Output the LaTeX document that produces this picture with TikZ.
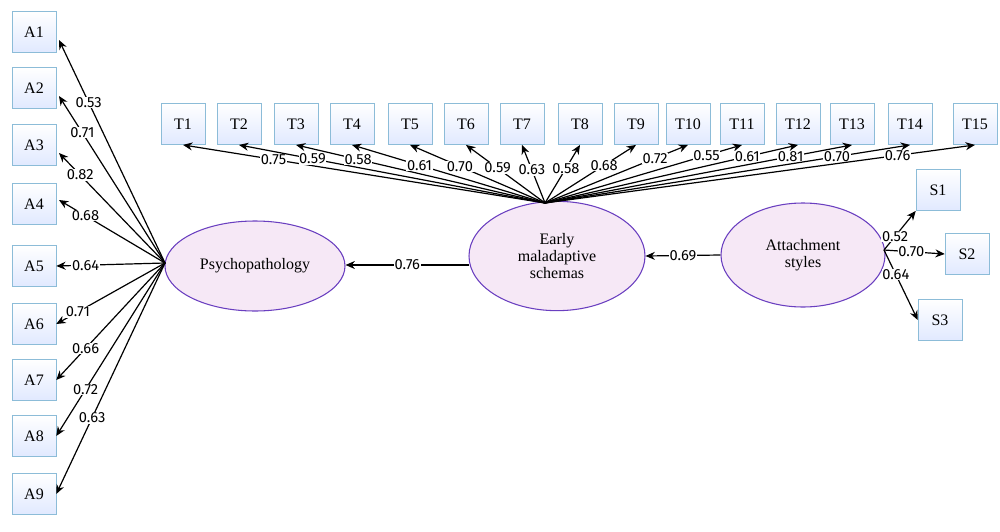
\documentclass[tikz,border=0pt]{standalone}
\usepackage{fontspec}
\setmainfont{Liberation Serif}
\newfontfamily\numf{Fira Sans}
\usetikzlibrary{arrows.meta,calc,shapes.geometric}
\definecolor{ellfill}{HTML}{F6E8F6}
\definecolor{elldraw}{HTML}{6A3FC0}
\definecolor{boxdraw}{HTML}{8CBCD8}
\begin{document}
\begin{tikzpicture}[x=0.75pt,y=-0.75pt,
 box/.style={draw=boxdraw,top color=white,bottom color=cyan!28!blue!12,minimum width=33pt,minimum height=31pt,inner sep=0pt,font=\fontsize{12}{13}\selectfont},
 lat/.style={ellipse,draw=elldraw,thick,fill=ellfill,inner sep=0pt,align=center,font=\fontsize{12}{13}\selectfont},
 ld/.style={-{Stealth[length=7pt,width=6pt]},line width=0.9pt,black},
 lb/.style={fill=white,inner sep=0.5pt,font=\numf\fontsize{11}{12}\selectfont}]
\useasboundingbox (0,0) rectangle (1000,532);
% A boxes
\foreach \i/\y in {1/32,2/88,3/145,4/204,5/266,6/324,7/380,8/436,9/494}
  \node[box] (A\i) at (34,\y) {A\i};
\foreach \i/\x in {1/183,2/239,3/296,4/352,5/410,6/466,7/522,8/580,9/636,10/688,11/742,12/798,13/852,14/910,15/975}
  \node[box] (T\i) at (\x,124) {T\i};
\node[box] (S1) at (938,190) {S1};
\node[box] (S2) at (967,254) {S2};
\node[box] (S3) at (940,320) {S3};
\node[lat,minimum width=135pt,minimum height=67.5pt] (P) at (255,266) {Psychopathology};
\node[lat,minimum width=132pt,minimum height=82pt] (E) at (557,256) {Early\\maladaptive\\schemas};
\node[lat,minimum width=123pt,minimum height=78pt] (AS) at (803,255) {Attachment\\styles};
\coordinate (pl) at (165,263);
\coordinate (et) at (545,203);
\coordinate (ar) at (884,250);
\coordinate (ew) at (469,265);
\foreach \i/\t in {1/40,2/96,3/153,4/200}
  \coordinate (t\i) at (59,\t);
% Psychopathology -> A
\foreach \i/\p/\v in {1/0.72/0.53,2/0.78/0.71,3/0.8/0.82,4/0.75/0.68}
  \draw[ld] (pl) -- (t\i) node[lb,pos=\p]{\v};
\foreach \i/\p/\v in {5/0.73/0.64,6/0.8/0.71,7/0.73/0.66,8/0.73/0.72,9/0.67/0.63}
  \draw[ld] (pl) -- (A\i.east) node[lb,pos=\p]{\v};
% EMS -> T
\foreach \i/\p/\v in {1/0.75/0.75,2/0.76/0.59,3/0.75/0.58,4/0.65/0.61,5/0.63/0.70,6/0.6/0.59,7/0.57/0.63,8/0.6/0.58,9/0.65/0.68,10/0.77/0.72,11/0.82/0.55,12/0.8/0.61,13/0.8/0.81,14/0.8/0.70,15/0.82/0.76}
  \draw[ld] (et) -- (T\i.south) node[lb,pos=\p]{\v};
% structural paths
\draw[ld] (ew) -- (P.east |- ew) node[lb,pos=0.5]{0.76};
\draw[ld] (AS.west) -- (E.east) node[lb,pos=0.5]{0.69};
\draw[ld] (ar) -- (S1.south west) node[lb,pos=0.35]{0.52};
\draw[ld] (ar) -- (S2.west) node[lb,pos=0.45]{0.70};
\draw[ld] (ar) -- (S3.west) node[lb,pos=0.35]{0.64};
\end{tikzpicture}
\end{document}
